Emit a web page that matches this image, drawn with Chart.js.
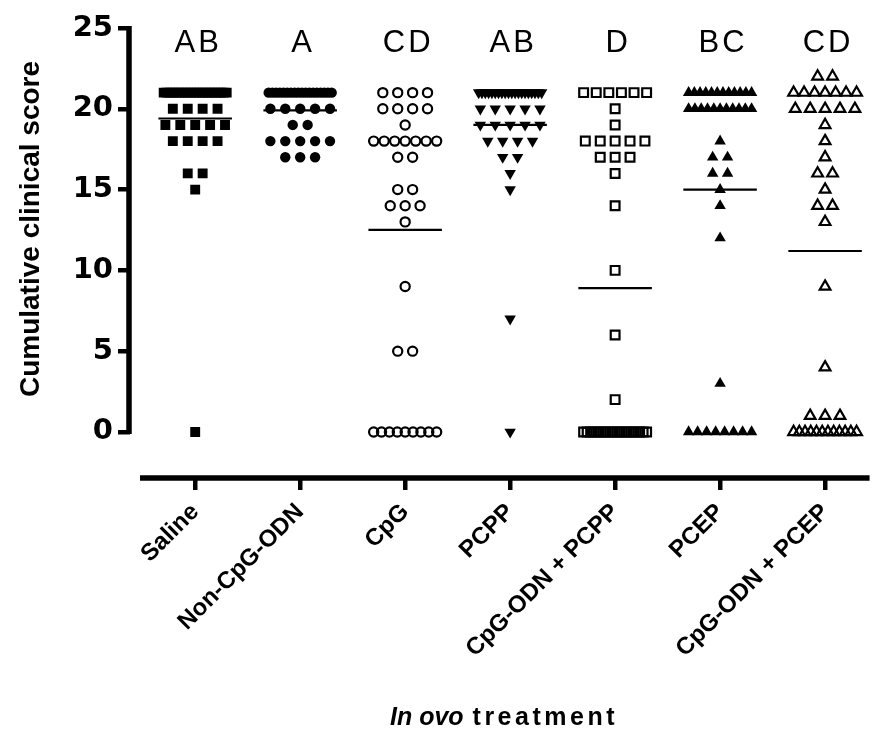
<!DOCTYPE html>
<html><head><meta charset="utf-8">
<script src="https://cdn.jsdelivr.net/npm/chart.js@4.4.0/dist/chart.umd.min.js"></script>
<style>html,body{margin:0;padding:0;background:#fff}</style>
</head><body>
<canvas id="c" width="878" height="752"></canvas>
<script>
// ---- data ----
const categories = ['Saline','Non-CpG-ODN','CpG','PCPP','CpG-ODN + PCPP','PCEP','CpG-ODN + PCEP'];
const groupLetters = ['AB','A','CD','AB','D','BC','CD'];
const meanScores = [19.4, 19.9, 12.5, 19.0, 8.9, 15.0, 11.2];
const yTickValues = [0, 5, 10, 15, 20, 25];

const saline = [21,21,21,21,21,21,21,21,21,21,21,21,21,21,21,21,21,21,21,21,21,21,
  20,20,20,20, 19,19,19,19,19, 18,18,18,18, 16,16, 15, 0];
const nonCpg = [21,21,21,21,21,21,21,21,21,21,21,21,21,21,21,21,21,21,
  20,20,20,20,20, 19,19, 18,18,18,18,18, 17,17,17];
const cpg = [21,21,21,21, 20,20,20,20, 19, 18,18,18,18,18,18,18, 17,17, 15,15,
  14,14,14, 13, 9, 5,5, 0,0,0,0,0,0,0,0,0];
const pcpp = [21,21,21,21,21,21,21,21,21,21,21,21,21,21,21,21,21,21,21,21,
  20,20,20,20,20, 19,19,19,19,19, 18,18,18,18, 17,17, 16, 15, 7, 0];
const cpgPcpp = [21,21,21,21,21,21, 20, 19, 18,18,18,18,18, 17,17,17, 16, 14, 10, 6, 2,
  0,0,0,0,0,0,0,0,0,0,0,0,0,0,0,0,0,0,0];
const pcep = [21,21,21,21,21,21,21,21,21,21,21,21, 20,20,20,20,20,20,20,20,20,20,20,
  18, 17,17, 16,16, 15, 14, 12, 3, 0,0,0,0,0,0,0,0];
const cpgPcep = [22,22, 21,21,21,21,21,21,21, 20,20,20,20,20, 19, 18, 17, 16,16, 15,
  14,14, 13, 9, 4, 1,1,1, 0,0,0,0,0,0,0,0,0,0,0,0];

const groups = [saline, nonCpg, cpg, pcpp, cpgPcpp, pcep, cpgPcep];

// marker styles
const markers = [
  {style:'rect', r:7, filled:true, rot:0},
  {style:'circle', r:5.2, filled:true, rot:0},
  {style:'circle', r:4.6, filled:false, rot:0},
  {style:'triangle', r:6.6, filled:true, rot:180},
  {style:'rect', r:6.2, filled:false, rot:0},
  {style:'triangle', r:6.6, filled:true, rot:0},
  {style:'triangle', r:6.2, filled:false, rot:0}
];

// column-scatter layout: equal values spread side by side, compressed when crowded
const baseSpacing = 0.142, maxSpan = 0.60;
function columnPoints(vals, g) {
  const counts = new Map();
  vals.forEach(v => counts.set(v, (counts.get(v) || 0) + 1));
  const pts = [];
  counts.forEach((k, v) => {
    const sp = k > 1 ? Math.min(baseSpacing, maxSpan / (k - 1)) : 0;
    for (let i = 0; i < k; i++) pts.push({x: g + (i - (k - 1) / 2) * sp, y: v});
  });
  return pts;
}

const datasets = [];
groups.forEach((vals, g) => {
  const m = markers[g];
  datasets.push({
    type: 'scatter', order: 1,
    data: columnPoints(vals, g),
    pointStyle: m.style, pointRotation: m.rot, pointRadius: m.r, pointHoverRadius: m.r,
    backgroundColor: m.filled ? '#000' : 'rgba(0,0,0,0)',
    borderColor: '#000', borderWidth: m.filled ? 0 : 2.2
  });
  datasets.push({
    type: 'line', order: 0,
    data: [{x: g - 0.35, y: meanScores[g]}, {x: g + 0.35, y: meanScores[g]}],
    borderColor: '#000', borderWidth: 2.2, pointRadius: 0, fill: false
  });
});

const FONT = '"Liberation Sans", Arial, Helvetica, sans-serif';
const WIDE = '"DejaVu Sans", "Liberation Sans", sans-serif';

const decor = {
  id: 'decor',
  afterDraw(chart) {
    const {ctx, chartArea, scales: {x, y}} = chart;
    ctx.save();
    ctx.strokeStyle = '#000'; ctx.fillStyle = '#000'; ctx.lineWidth = 5.5;
    // y axis line (0..25)
    const ax = chartArea.left - 1;
    ctx.beginPath(); ctx.moveTo(ax, y.getPixelForValue(25) - 2); ctx.lineTo(ax, y.getPixelForValue(0) + 2); ctx.stroke();
    // x axis line
    ctx.beginPath(); ctx.moveTo(chartArea.left + 10, chartArea.bottom); ctx.lineTo(chartArea.right, chartArea.bottom); ctx.stroke();
    // group letters
    ctx.font = '31px ' + FONT; ctx.textAlign = 'center'; ctx.textBaseline = 'alphabetic';
    try { ctx.letterSpacing = '3px'; } catch (e) {}
    groupLetters.forEach((t, i) => ctx.fillText(t, x.getPixelForValue(i) + 3, y.getPixelForValue(23.5)));
    try { ctx.letterSpacing = '0px'; } catch (e) {}
    // y title
    ctx.save();
    ctx.translate(31, 229); ctx.rotate(-Math.PI / 2);
    ctx.font = 'bold 28px ' + FONT; ctx.textBaseline = 'middle'; ctx.textAlign = 'center';
    ctx.fillText('Cumulative clinical score', 0, 0);
    ctx.restore();
    // x title
    ctx.textAlign = 'left'; ctx.textBaseline = 'alphabetic';
    const part1 = 'In ovo ', part2 = 'treatment';
    ctx.font = 'italic bold 25px ' + FONT;
    const w1 = ctx.measureText(part1).width;
    ctx.font = 'bold 25px ' + FONT;
    try { ctx.letterSpacing = '3.5px'; } catch (e) {}
    const w2 = ctx.measureText(part2).width;
    const startX = 503 - (w1 + w2) / 2, baseY = 725;
    ctx.fillText(part2, startX + w1 + 2, baseY);
    try { ctx.letterSpacing = '0px'; } catch (e) {}
    ctx.font = 'italic bold 25px ' + FONT;
    ctx.fillText(part1, startX, baseY);
    ctx.restore();
  }
};

new Chart(document.getElementById('c'), {
  data: {datasets},
  options: {
    responsive: false, animation: false, devicePixelRatio: 1,
    layout: {padding: {top: 28, right: 0, left: 0, bottom: 0}},
    plugins: {legend: {display: false}, tooltip: {enabled: false}},
    scales: {
      x: {
        type: 'linear', min: -0.621, max: 6.424,
        afterBuildTicks: s => { s.ticks = categories.map((_, i) => ({value: i})); },
        afterFit: s => { s.height = 274; },
        ticks: {
          autoSkip: false, minRotation: 45, maxRotation: 45, padding: 8, color: '#000',
          font: {family: FONT, size: 24, weight: 'bold'},
          callback: v => categories[v]
        },
        grid: {drawOnChartArea: false, drawTicks: true, tickLength: 12, lineWidth: 4.5, color: '#000'},
        border: {display: false}
      },
      y: {
        type: 'linear', min: -2.85, max: 25,
        afterBuildTicks: s => { s.ticks = yTickValues.map(v => ({value: v})); },
        afterFit: s => { s.width = 130; },
        ticks: {color: '#000', padding: 5, font: {family: WIDE, size: 29, weight: 'bold'}},
        grid: {drawOnChartArea: false, drawTicks: true, tickLength: 12, lineWidth: 4.5, color: '#000'},
        border: {display: false}
      }
    }
  },
  plugins: [decor]
});
</script>
</body></html>
